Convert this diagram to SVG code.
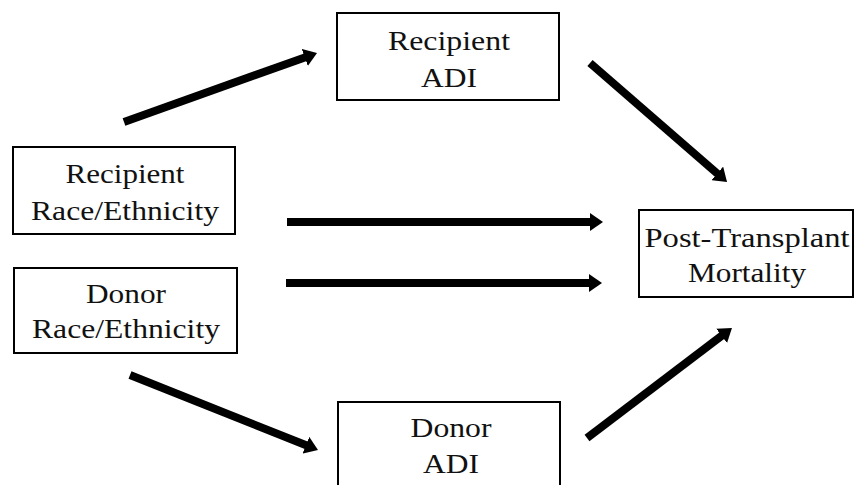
<svg xmlns="http://www.w3.org/2000/svg" width="854" height="485" viewBox="0 0 854 485">
<style>
.box{fill:#fff;stroke:#000;stroke-width:2}
.lbl{font-family:"Liberation Serif","DejaVu Serif",serif;font-size:28px;fill:#111;text-anchor:middle}
.arr{stroke:#000;stroke-width:8;fill:none;marker-end:url(#ah)}
</style>
<defs>
<marker id="ah" markerUnits="userSpaceOnUse" markerWidth="13" markerHeight="18" viewBox="0 0 13 18" refX="3" refY="9" orient="auto">
<path d="M0,0 L13,9 L0,18 z" fill="#000"/>
</marker>
</defs>
<rect width="854" height="485" fill="#fff"/>
<g id="connectors">
<line class="arr" x1="124" y1="122" x2="307.6" y2="56.4"/>
<line class="arr" x1="287" y1="222" x2="593" y2="222"/>
<line class="arr" x1="286" y1="283" x2="592" y2="283"/>
<line class="arr" x1="590" y1="63" x2="719.5" y2="175.4"/>
<line class="arr" x1="130" y1="375" x2="308.7" y2="446.3"/>
<line class="arr" x1="587" y1="438" x2="724" y2="334"/>
</g>
<g id="recipient-adi">
<rect class="box" x="337" y="13" width="222" height="87"/>
<text class="lbl" x="449" y="50" textLength="122" lengthAdjust="spacingAndGlyphs">Recipient</text>
<text class="lbl" x="449" y="87" textLength="56" lengthAdjust="spacingAndGlyphs">ADI</text>
</g>
<g id="recipient-race">
<rect class="box" x="13" y="147" width="222" height="87"/>
<text class="lbl" x="125" y="183" textLength="119" lengthAdjust="spacingAndGlyphs">Recipient</text>
<text class="lbl" x="125" y="220" textLength="188" lengthAdjust="spacingAndGlyphs">Race/Ethnicity</text>
</g>
<g id="donor-race">
<rect class="box" x="14" y="268" width="223" height="85"/>
<text class="lbl" x="126" y="303" textLength="80" lengthAdjust="spacingAndGlyphs">Donor</text>
<text class="lbl" x="126" y="338" textLength="188" lengthAdjust="spacingAndGlyphs">Race/Ethnicity</text>
</g>
<g id="post-transplant">
<rect class="box" x="639" y="210" width="214" height="87"/>
<text class="lbl" x="747" y="247" textLength="205" lengthAdjust="spacingAndGlyphs">Post-Transplant</text>
<text class="lbl" x="747" y="282" textLength="118" lengthAdjust="spacingAndGlyphs">Mortality</text>
</g>
<g id="donor-adi">
<rect class="box" x="338" y="402" width="222" height="90"/>
<text class="lbl" x="451" y="437" textLength="81" lengthAdjust="spacingAndGlyphs">Donor</text>
<text class="lbl" x="451" y="473" textLength="56" lengthAdjust="spacingAndGlyphs">ADI</text>
</g>
</svg>
